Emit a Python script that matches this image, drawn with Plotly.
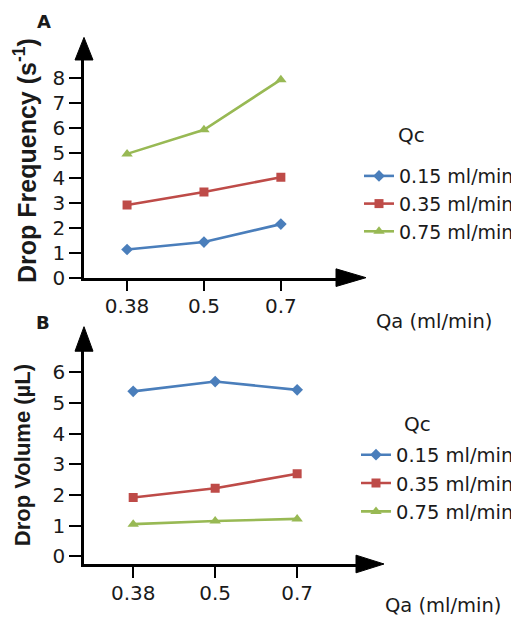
import plotly.graph_objects as go

# the page body keeps an 8px margin; lay out in window pixels and shift by it
OFF = 8
W, H = 519 - OFF, 626 - OFF

# ---- data ----
qa_labels = ["0.38", "0.5", "0.7"]
qc_names = ["0.15 ml/min", "0.35 ml/min", "0.75 ml/min"]

freq_015 = [1.13, 1.43, 2.15]
freq_035 = [2.92, 3.44, 4.03]
freq_075 = [4.97, 5.94, 7.95]

vol_015 = [5.38, 5.70, 5.43]
vol_035 = [1.92, 2.22, 2.69]
vol_075 = [1.05, 1.15, 1.22]

freq_ticks = [0, 1, 2, 3, 4, 5, 6, 7, 8]
vol_ticks = [0, 1, 2, 3, 4, 5, 6]

colors = ["#4A7EBB", "#BE4B48", "#98B954"]
symbols = ["diamond", "square", "triangle-up"]
msizes = [9, 9, 10]

FONT = "DejaVu Sans, sans-serif"
TFONT = "Liberation Sans, Arial, sans-serif"
TXT = "#1a1a1a"


def px(x):
    return (x - OFF) / W


def py(y):
    return 1 - (y - OFF) / H


fig = go.Figure()

for vals, name, c, s, ms in zip([freq_015, freq_035, freq_075], qc_names, colors, symbols, msizes):
    fig.add_trace(go.Scatter(
        x=qa_labels, y=vals, name=name, mode="lines+markers",
        line=dict(color=c, width=2.6), marker=dict(symbol=s, size=ms, color=c),
        xaxis="x", yaxis="y", legend="legend"))

for vals, name, c, s, ms in zip([vol_015, vol_035, vol_075], qc_names, colors, symbols, msizes):
    fig.add_trace(go.Scatter(
        x=qa_labels, y=vals, name=name, mode="lines+markers",
        line=dict(color=c, width=2.6), marker=dict(symbol=s, size=ms, color=c),
        xaxis="x2", yaxis="y2", legend="legend2"))

axis_common = dict(showline=True, linecolor="black", linewidth=2.5, ticks="outside",
                   tickcolor="black", tickwidth=2, showgrid=False, zeroline=False,
                   tickfont=dict(family=FONT, size=20, color=TXT))

fig.update_layout(
    width=W, height=H,
    margin=dict(l=0, r=0, t=0, b=0),
    paper_bgcolor="white", plot_bgcolor="white",
    font=dict(family=FONT, color=TXT),
    xaxis=dict(domain=[px(84), px(337)], type="category", range=[-0.56, 2.73],
               anchor="y", ticklen=11, ticklabelstandoff=-2, **axis_common),
    yaxis=dict(domain=[py(283), py(60)], range=[0, 8.78], tickvals=freq_ticks,
               anchor="x", ticklen=12, **axis_common),
    xaxis2=dict(domain=[px(84), px(357)], type="category", range=[-0.6, 2.73],
                anchor="y2", ticklen=11, ticklabelstandoff=-2, **axis_common),
    yaxis2=dict(domain=[py(575), py(358)], range=[-0.25, 6.69], tickvals=vol_ticks,
                anchor="x2", ticklen=12, **axis_common),
    legend=dict(x=1.0, y=py(160), xanchor="right", yanchor="top",
                font=dict(family=FONT, size=19, color=TXT), bgcolor="rgba(0,0,0,0)",
                tracegroupgap=0),
    legend2=dict(x=1.0, y=py(444), xanchor="right", yanchor="top",
                 font=dict(family=FONT, size=19.5, color=TXT), bgcolor="rgba(0,0,0,0)",
                 tracegroupgap=0),
)


def ann(text, x, y, size, bold=False, angle=0, family=FONT):
    fig.add_annotation(text=text, x=px(x), y=py(y), xref="paper", yref="paper",
                       xanchor="center", yanchor="middle", showarrow=False,
                       textangle=angle,
                       font=dict(family=family, size=size, color=TXT,
                                 weight="bold" if bold else "normal"))


ann("A", 44, 22, 18, bold=True)
ann("B", 43, 329, 18, bold=True)
ann("Drop Frequency (s<sup>-1</sup>)", 25, 164, 25, bold=True, angle=-90, family=TFONT)
ann("Drop Volume (µL)", 22, 464, 22, bold=True, angle=-90, family=TFONT)
ann("Qa (ml/min)", 434, 328, 19.5)
ann("Qa (ml/min)", 443, 617, 19.5)
ann("Qc", 411, 138, 20)
ann("Qc", 417, 432, 20)


def tri(p1, p2, p3):
    path = "M {},{} L {},{} L {},{} Z".format(px(p1[0]), py(p1[1]), px(p2[0]), py(p2[1]),
                                             px(p3[0]), py(p3[1]))
    fig.add_shape(type="path", path=path, xref="paper", yref="paper",
                  fillcolor="black", line=dict(color="black", width=1))


# arrowheads
tri((84, 38), (75, 61), (93, 61))
tri((366, 283), (336, 274), (336, 292))
tri((84, 333), (75, 358), (93, 358))
tri((384, 575), (356, 566), (356, 584))

fig.write_html("out.html")
